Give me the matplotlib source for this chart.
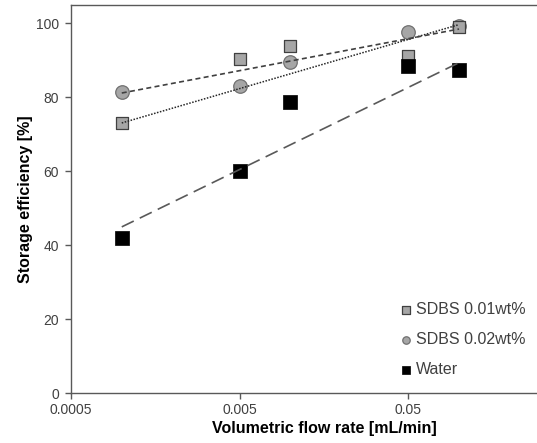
import numpy as np
import matplotlib
matplotlib.use("Agg")
import matplotlib.pyplot as plt
from matplotlib.ticker import FixedLocator, FixedFormatter, NullLocator

plt.rcParams["font.family"] = ["Liberation Sans", "DejaVu Sans"]

# ---------------------------------------------------------------- data
flow = [0.001, 0.005, 0.01, 0.05, 0.1]          # mL/min
sdbs_001 = [73.1, 90.5, 93.8, 91.1, 99.0]       # %
sdbs_002 = [81.6, 83.2, 89.7, 97.6, 99.2]       # %
water = [42.0, 60.2, 78.9, 88.4, 87.5]          # %
series_names = ["SDBS 0.01wt%", "SDBS 0.02wt%", "Water"]

# logarithmic trendlines, values read at both ends of the data range
trend_x = [0.001, 0.1]
trend_001 = [73.1, 99.7]
trend_002 = [81.2, 98.5]
trend_water = [45.0, 89.4]

xticks = [0.0005, 0.005, 0.05]
xtick_labels = ["0.0005", "0.005", "0.05"]
yticks = [0, 20, 40, 60, 80, 100]

# ---------------------------------------------------------------- figure
fig = plt.figure(figsize=(5.37, 4.43), dpi=100)
ax = fig.add_axes([71/537, 49.7/443, (576.9-71)/537, 388.3/443])

def log_line(ends):
    # straight line on the log axis between the two trendline ends
    xs = np.geomspace(trend_x[0], trend_x[1], 60)
    a = (ends[1] - ends[0]) / np.log(trend_x[1] / trend_x[0])
    return xs, ends[0] + a*np.log(xs / trend_x[0])

s1 = ax.scatter(flow, sdbs_001, marker="s", s=85, c="#a6a6a6",
                edgecolors="#404040", linewidths=0.9, zorder=3.5)
s2 = ax.scatter(flow, sdbs_002, marker="o", s=95, c="#a6a6a6",
                edgecolors="#707070", linewidths=0.9, zorder=3)
s3 = ax.scatter(flow, water, marker="s", s=90, c="black",
                edgecolors="black", linewidths=0.5, zorder=4)

xs, ys = log_line(trend_001)
ax.plot(xs, ys, color="#262626", lw=1.1, ls=(0, (1, 1)), zorder=5)
xs, ys = log_line(trend_002)
ax.plot(xs, ys, color="#404040", lw=1.2, ls=(0, (3, 2)), zorder=5)
xs, ys = log_line(trend_water)
ax.plot(xs, ys, color="#595959", lw=1.2, ls=(0, (8, 4)), zorder=5)

ax.set_xscale("log")
ax.set_xlim(0.0005, 0.5)
ax.set_ylim(0, 105)
ax.xaxis.set_major_locator(FixedLocator(xticks))
ax.xaxis.set_major_formatter(FixedFormatter(xtick_labels))
ax.xaxis.set_minor_locator(NullLocator())
ax.set_yticks(yticks)

for sp in ["left", "bottom", "top"]:
    ax.spines[sp].set_color("#595959")
    ax.spines[sp].set_linewidth(1.0)
ax.spines["right"].set_visible(False)
ax.tick_params(direction="out", length=4, width=1, color="#595959",
               labelsize=10, labelcolor="#404040")
ax.tick_params(axis="y", pad=4.5)
ax.tick_params(axis="x", pad=3)

ax.set_xlabel("Volumetric flow rate [mL/min]", fontsize=11.5, fontweight="bold",
              labelpad=3)
ax.set_ylabel("Storage efficiency [%]", fontsize=11.5, fontweight="bold",
              labelpad=2)

leg = fig.legend([s1, s2, s3], series_names, loc="upper left",
                 bbox_to_anchor=(400/537, 1 - 302/443), frameon=False,
                 fontsize=11.5, labelcolor="#404040", markerscale=0.55,
                 handletextpad=0.2, labelspacing=0.95, borderpad=0,
                 borderaxespad=0, handlelength=0.8)

fig.savefig("out.png", dpi=100)
